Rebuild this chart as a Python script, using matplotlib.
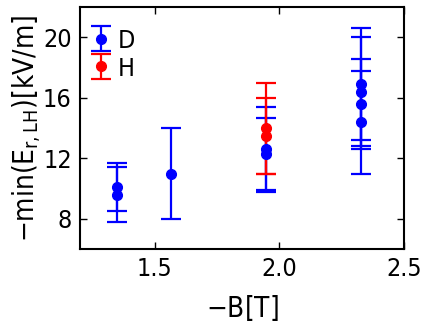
import matplotlib
matplotlib.use("Agg")
import matplotlib.pyplot as plt

plt.rcParams['font.family'] = ['DejaVu Sans']
plt.rcParams['font.stretch'] = 'condensed'
plt.rcParams['mathtext.fontset'] = 'custom'
plt.rcParams['mathtext.rm'] = 'DejaVu Sans:stretch=condensed'
plt.rcParams['mathtext.it'] = 'DejaVu Sans:stretch=condensed'
plt.rcParams['mathtext.default'] = 'regular'
plt.rcParams['font.size'] = 18

# D (deuterium) data: field, value, symmetric error
d_b = [1.347, 1.347, 1.567, 1.948, 1.948, 2.328, 2.328, 2.328, 2.328]
d_val = [10.1, 9.6, 11.0, 12.6, 12.3, 16.9, 16.4, 15.6, 14.4]
d_err = [1.6, 1.8, 3.0, 2.8, 2.4, 3.7, 3.6, 3.0, 3.4]

# H (hydrogen) data
h_b = [1.948, 1.948]
h_val = [14.0, 13.5]
h_err = [3.0, 2.5]

fig, ax = plt.subplots(figsize=(4.26, 3.24), dpi=100)

ax.errorbar(d_b, d_val, yerr=d_err, fmt='o', color='blue', ms=7,
            elinewidth=1.6, capsize=7.5, capthick=1.6, label='D')
ax.errorbar(h_b, h_val, yerr=h_err, fmt='o', color='red', ms=7,
            elinewidth=1.6, capsize=7.5, capthick=1.6, label='H')

ax.set_xlim(1.2, 2.5)
ax.set_ylim(6, 22)
ax.set_xticks([1.5, 2.0, 2.5])
ax.set_yticks([8, 12, 16, 20])
ax.tick_params(direction='in', top=True, right=True, length=5, width=1, pad=6)
for s in ax.spines.values():
    s.set_linewidth(1.5)

ax.set_xlabel('$-B[T]$', fontsize=20, labelpad=8)
ax.set_ylabel('$-min(E_{r,LH})[kV/m]$', fontsize=20, labelpad=0)

ax.legend(loc='upper left', bbox_to_anchor=(0.0, 0.95), borderaxespad=0,
          frameon=False, handlelength=0.85, handleheight=0.9,
          handletextpad=0.25, labelspacing=0.15)

fig.subplots_adjust(left=0.188, right=0.948, top=0.978, bottom=0.231)
fig.savefig('out.png', dpi=100)
